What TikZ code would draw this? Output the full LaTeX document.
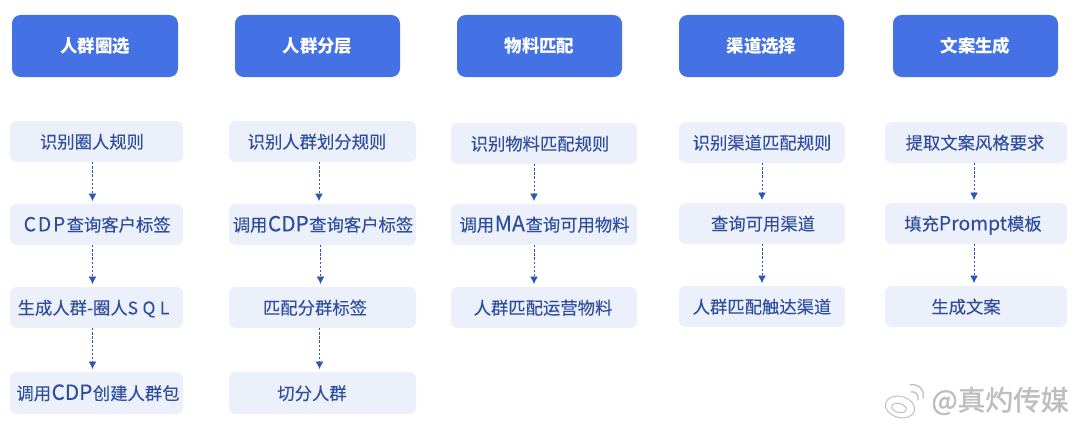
\documentclass[tikz,border=0pt]{standalone}
\usepackage{fontspec}
\usetikzlibrary{arrows.meta}
\setmainfont{Noto Sans CJK SC}
\newfontfamily\subfont[FakeBold=0.15]{Noto Sans CJK SC}
\definecolor{hdfill}{HTML}{4472E4}
\definecolor{subfill}{HTML}{ECF0FB}
\definecolor{subtext}{HTML}{2F4F9E}
\definecolor{arrowc}{HTML}{2F55B5}
\definecolor{wm}{HTML}{BEBEBE}
\newcommand{\lt}[1]{{\fontsize{14.5}{14}\selectfont #1}}
\newcommand{\bigcdp}{{\fontsize{15.6}{14}\selectfont\kern0.4pt CDP\kern0.4pt}}
\newcommand{\cdp}{\kern1pt\lt{C\kern1.4pt D\kern1.4pt P}\kern1pt}
\tikzset{
  hdbox/.style={fill=hdfill,rounded corners=6.4pt},
  hdtext/.style={text=white,font=\fontsize{13.1}{14}\selectfont\bfseries,inner sep=0pt},
  subbox/.style={fill=subfill,rounded corners=4.9pt},
  subtxt/.style={text=subtext,font=\subfont\fontsize{13}{14}\selectfont,inner sep=0pt},
  conn/.style={draw=arrowc,line width=0.55pt,dash pattern=on 1.8pt off 1.3pt,-{Latex[length=5.6pt,width=5.8pt,fill=arrowc]},shorten >=2.2pt},
  wmline/.style={draw=wm,line width=0.7pt,fill=white},
}
% box: name, x1,y1,x2,y2, text centre x, text
\newcommand{\hdrbox}[6]{%
  \path[hdbox] (#2,#3) rectangle (#4,#5);
  \node[hdtext] (#1) at ({(#2+#4)/2},{(#3+#5)/2-0.1}) {#6};}
\newcommand{\stepitem}[7]{%
  \path[subbox] (#2,#3) rectangle (#4,#5);
  \coordinate (#1t) at (#6,#3);
  \coordinate (#1b) at (#6,#5);
  \node[subtxt,anchor=mid] (#1) at (#6,{(#3+#5)/2+3.2}) {#7};}
\begin{document}
\begin{tikzpicture}[x=0.75pt,y=-0.75pt]
\useasboundingbox (0,0) rectangle (1080,428);
\hdrbox{h1}{12}{15}{178}{77}{人群圈选}
\hdrbox{h2}{235}{15}{400}{77}{人群分层}
\hdrbox{h3}{457}{15}{622}{77}{物料匹配}
\hdrbox{h4}{679}{15}{844}{77}{渠道选择}
\hdrbox{h5}{893}{15}{1058}{77}{文案生成}
% column 1
\stepitem{a1}{10}{121}{183}{162}{92}{识别圈人规则}
\stepitem{a2}{10}{204}{183}{245}{96.5}{\cdp 查询客户标签}
\stepitem{a3}{10}{287}{183}{328}{93.5}{生成人群-圈人S\kern1.2pt\,Q\kern1.2pt\,L}
\stepitem{a4}{10}{372}{183}{414}{98}{调用\bigcdp 创建人群包}
% column 2
\stepitem{b1}{229}{121}{416}{162}{317}{识别人群划分规则}
\stepitem{b2}{229}{204}{416}{245}{323}{调用\bigcdp 查询客户标签}
\stepitem{b3}{229}{287}{416}{328}{315}{匹配分群标签}
\stepitem{b4}{229}{372}{416}{414}{312}{切分人群}
% column 3
\stepitem{c1}{451}{123}{637}{164}{540}{识别物料匹配规则}
\stepitem{c2}{451}{204}{637}{245}{544.5}{调用{\fontsize{16}{14}\selectfont\kern0.4pt MA\kern0.4pt}查询可用物料}
\stepitem{c3}{451}{287}{637}{328}{543}{人群匹配运营物料}
% column 4
\stepitem{d1}{679}{122}{845}{163}{762}{识别渠道匹配规则}
\stepitem{d2}{679}{203}{845}{244}{763}{查询可用渠道}
\stepitem{d3}{679}{286}{845}{327}{762}{人群匹配触达渠道}
% column 5
\stepitem{e1}{885}{122}{1067}{163}{975}{提取文案风格要求}
\stepitem{e2}{885}{203}{1067}{244}{973}{填充\lt{Prompt}模板}
\stepitem{e3}{885}{286}{1067}{327}{966}{生成文案}
% connectors
\coordinate (xa) at (92.5,0);
\coordinate (xb1) at (319,0);
\coordinate (xb2) at (320.5,0);
\coordinate (xb3) at (319.5,0);
\coordinate (xc) at (534,0);
\coordinate (xd) at (762,0);
\coordinate (xe) at (974,0);
\draw[conn] (a1b -| xa) -- (a2t -| xa);
\draw[conn] (a2b -| xa) -- (a3t -| xa);
\draw[conn] (a3b -| xa) -- (a4t -| xa);
\draw[conn] (b1b -| xb1) -- (b2t -| xb1);
\draw[conn] (b2b -| xb2) -- (b3t -| xb2);
\draw[conn] (b3b -| xb3) -- (b4t -| xb3);
\draw[conn] (c1b -| xc) -- (c2t -| xc);
\draw[conn] (c2b -| xc) -- (c3t -| xc);
\draw[conn] (d1b -| xd) -- (d2t -| xd);
\draw[conn] (d2b -| xd) -- (d3t -| xd);
\draw[conn] (e1b -| xe) -- (e2t -| xe);
\draw[conn] (e2b -| xe) -- (e3t -| xe);
% watermark
\draw[wmline,rotate around={-15:(900,407)}] (900,407) ellipse (15 and 10.5);
\draw[wmline,rotate around={-15:(899,408)}] (899,408) ellipse (7.5 and 4.5);
\draw[wm,line width=1pt,line cap=round] (911,392) .. controls (916,391) and (919,395) .. (918,400);
\draw[wm,line width=1pt,line cap=round] (910,385) .. controls (918,383) and (925,390) .. (923,398);
\node[inner sep=0pt,text=wm,font=\fontsize{20.8}{22}\selectfont\special{pdf:code 2 Tr 0.3 w 0.72 G 1 g}] (wmk) at (1000,401) {@真灼传媒};
\special{pdf:code 0 Tr}
\end{tikzpicture}
\end{document}
